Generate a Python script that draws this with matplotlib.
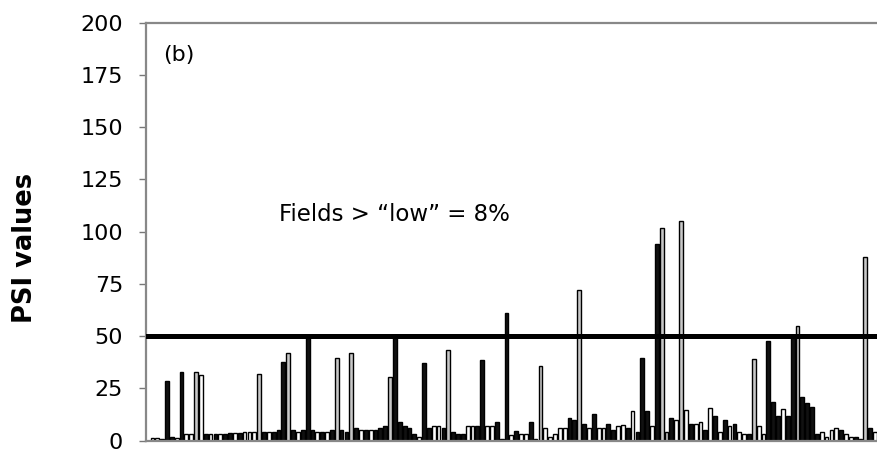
import matplotlib
matplotlib.use("Agg")
import matplotlib.pyplot as plt
import numpy as np

# PSI value per field (left to right) and field class (K=black, W=white, G=grey)
psi_values = [
    1.5, 1.5, 1, 28.6, 2, 1.5, 32.7, 3, 3, 32.7,
    31.4, 3, 3, 3, 3, 3, 3.5, 3.5, 3.5, 4,
    4, 4, 31.7, 4, 4, 4, 5, 37.8, 41.9, 5,
    4, 5, 49, 5, 4, 4, 4, 5, 39.8, 5,
    4, 41.9, 6, 5, 5, 5, 5, 6, 7, 30.3,
    49, 9, 7, 6, 3, 2, 37, 6, 7, 7,
    6, 43.5, 4, 3, 3, 7, 7, 7, 38.6, 7,
    7, 9, 1, 61, 2.5, 4.5, 3, 3, 9, 1,
    35.7, 6, 2, 3, 6, 6, 10.8, 10, 72, 8,
    6, 13, 6, 6, 8, 5, 7, 7.7, 6, 14,
    4, 39.8, 14, 7, 94, 102, 4, 11, 10, 105,
    14.5, 8, 8, 9, 5, 15.8, 12, 4, 10, 7,
    8, 4, 3, 3, 39, 7, 3, 47.5, 18.5, 12,
    15, 12, 49, 55, 20.8, 18, 16, 3, 4, 2,
    5, 6, 5, 3, 2, 2, 1, 88, 6, 4,
    7,
]
field_class = list(
    "WWKKKWKWWG"
    "WKWKWKKWKW"
    "WWGKWKKKGK"
    "WKKKWKWKGK"
    "KGKWKWKKKG"
    "KKKKKWKKWW"
    "KGKKKWWKKW"
    "WKWKWKWWKW"
    "GWWWWWKKGK"
    "WKWWKKWWKW"
    "KKKWKGGKWG"
    "WKWWKWKWKW"
    "KWWKGWWKKK"
    "WKKGKKKKWW"
    "WWKWWKWGKW"
    "W"
)
threshold = 50
ylabel = "PSI values"
panel_label = "(b)"
note = "Fields > \u201clow\u201d = 8%"
yticks = [0, 25, 50, 75, 100, 125, 150, 175, 200]

class_face = {"K": "#111111", "W": "#ffffff", "G": "#c8c8c8"}

fig = plt.figure(figsize=(8.78, 4.49), dpi=100)
ax = fig.add_axes([146 / 878, 8.3 / 449, 1 - 146 / 878, (440.7 - 22.7) / 449])

x = np.arange(len(psi_values))
faces = [class_face[c] for c in field_class]
ax.bar(x, psi_values, width=0.78, color=faces, edgecolor="#000000", linewidth=1.0, zorder=2)

ax.axhline(threshold, color="#000000", linewidth=3.6, zorder=3)

ax.set_xlim(-1.32, 149.6)
ax.set_ylim(0, 200)
ax.set_yticks(yticks)
ax.set_xticks([])
ax.tick_params(axis="y", direction="out", length=5, width=1.0, color="#777777",
               pad=11.5, labelsize=16)
for lab in ax.get_yticklabels():
    lab.set_family("DejaVu Sans")

for side in ["left", "top", "bottom"]:
    ax.spines[side].set_color("#888888")
    ax.spines[side].set_linewidth(1.6)
ax.spines["right"].set_visible(False)

ax.text(5.4, 184.5, panel_label, fontsize=16, family="DejaVu Sans",
        ha="center", va="center")
ax.text(26.1, 108, note, fontsize=16.5, family="DejaVu Sans",
        ha="left", va="center")

fig.text(25 / 878, 1 - 248 / 449, ylabel, rotation=90, fontsize=18.5,
         fontweight="bold", family="DejaVu Sans", ha="center", va="center")

fig.savefig("out.png", dpi=100)
